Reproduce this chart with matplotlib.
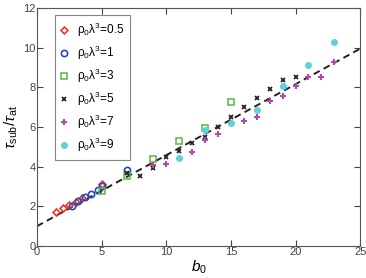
import numpy as np
from matplotlib import pyplot as plt

plt.rcParams['font.family'] = ['Liberation Sans', 'DejaVu Sans']
plt.rcParams['mathtext.fontset'] = 'custom'
plt.rcParams['mathtext.rm'] = 'Liberation Sans'
plt.rcParams['mathtext.it'] = 'Liberation Sans:italic'

# данные по сериям (b0, tau_sub/tau_at)
x05 = [1.5, 2.0, 2.5, 3.0, 3.5, 5.0]
y05 = [1.71, 1.90, 2.06, 2.23, 2.43, 3.15]
x1 = [2.7, 3.2, 3.7, 4.2, 4.7, 5.0, 7.0]
y1 = [2.01, 2.25, 2.48, 2.62, 2.85, 3.02, 3.83]
x3 = [5, 7, 9, 11, 13, 15]
y3 = [2.79, 3.52, 4.38, 5.29, 5.96, 7.25]
x5 = [7, 8, 9, 10, 11, 12, 13, 14, 15, 16, 17, 18, 19, 20]
y5 = [3.66, 3.52, 3.94, 4.51, 4.77, 5.22, 5.49, 5.99, 6.51, 7.0, 7.47, 7.94, 8.38, 8.54]
x7 = [9, 10, 12, 13, 14, 15, 16, 17, 18, 19, 20, 21, 22, 23]
y7 = [4.08, 4.13, 4.75, 5.34, 5.66, 6.21, 6.33, 6.53, 7.33, 7.57, 8.09, 8.54, 8.54, 9.26]
x9 = [11, 13, 15, 17, 19, 21, 23]
y9 = [4.45, 5.87, 6.21, 6.86, 8.07, 9.15, 10.29]

# линейная аппроксимация
fit_a = 1.0
fit_b = 0.358

fig = plt.figure(figsize=(3.66, 2.78), dpi=100)
ax = fig.add_axes([0.101, 0.115, 0.883, 0.856])

xf = np.array([0, 25])
ax.plot(xf, fit_a + fit_b * xf, color='#222222', ls=(0, (3.5, 2.3)), lw=1.4, zorder=1)

ms = 4
ax.plot(x05, y05, 'D', ms=3.5, mfc='none', mec='#e8392b', mew=1.2, ls='none',
        label=r'$\mathregular{\rho_0\lambda^3}$=0.5')
ax.plot(x1, y1, 'o', ms=4.5, mfc='none', mec='#2a49b0', mew=1.2, ls='none',
        label=r'$\mathregular{\rho_0\lambda^3}$=1')
ax.plot(x3, y3, 's', ms=ms, mfc='none', mec='#5cb83a', mew=1.1, ls='none',
        label=r'$\mathregular{\rho_0\lambda^3}$=3')
ax.plot(x5, y5, 'x', ms=3.5, mec='#222222', mew=1.3, ls='none',
        label=r'$\mathregular{\rho_0\lambda^3}$=5')
ax.plot(x7, y7, '+', ms=4.5, mec='#b04aab', mew=1.5, ls='none',
        label=r'$\mathregular{\rho_0\lambda^3}$=7')
ax.plot(x9, y9, 'o', ms=4, mfc='#5fd0dc', mec='#5fd0dc', ls='none',
        label=r'$\mathregular{\rho_0\lambda^3}$=9')

ax.set_xlim(0, 25)
ax.set_ylim(0, 12)
ax.set_xticks([0, 5, 10, 15, 20, 25])
ax.set_yticks([0, 2, 4, 6, 8, 10, 12])
ax.tick_params(direction='in', top=True, right=True, labelsize=8, length=4,
               colors='#444444', pad=1)
for s in ax.spines.values():
    s.set_color('#555555')

ax.set_xlabel(r'$b_0$', fontsize=11, labelpad=1)
ax.set_ylabel(r'$\tau_{\mathregular{sub}}/\tau_{\mathregular{at}}$', fontsize=11, labelpad=2)

leg = ax.legend(loc='upper left', fontsize=8.5, frameon=True, fancybox=False,
                edgecolor='#666666', handlelength=0.6, handletextpad=0.8,
                labelspacing=0.4, borderpad=0.5, borderaxespad=0,
                bbox_to_anchor=(0.055, 0.97))
leg.get_frame().set_linewidth(0.8)

plt.savefig('out.png', dpi=100)
